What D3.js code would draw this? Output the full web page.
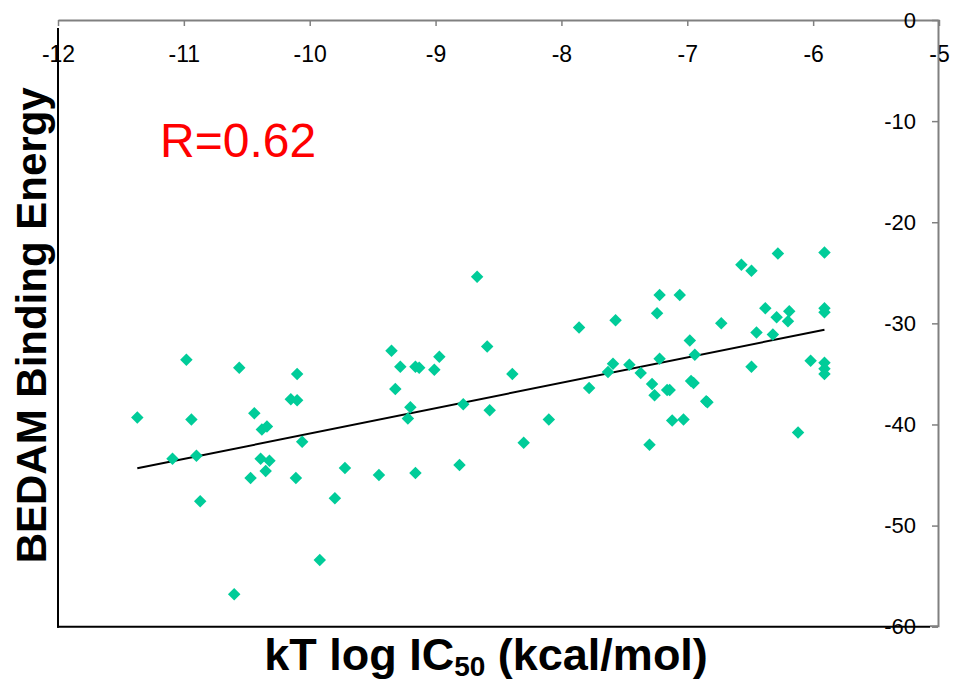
<!DOCTYPE html>
<html>
<head>
<meta charset="utf-8">
<script src="https://cdn.jsdelivr.net/npm/d3@7"></script>
<style>
  body { margin: 0; background: #fff; }
  text { font-family: "Liberation Sans", Arial, sans-serif; }
</style>
</head>
<body>
<div id="chart"></div>
<script>
// kT log IC50 (kcal/mol) vs BEDAM binding energy
const logIC50 = [
  -11.37, -11.09, -10.98, -10.94, -10.90, -10.87, -10.60, -10.56, -10.47, -10.44,
  -10.39, -10.38, -10.35, -10.34, -10.32, -10.15, -10.11, -10.10, -10.10, -10.06,
  -9.92, -9.80, -9.72, -9.45, -9.35, -9.32, -9.28, -9.22, -9.20, -9.16,
  -9.16, -9.13, -9.01, -8.97, -8.81, -8.78, -8.67, -8.59, -8.57, -8.39,
  -8.30, -8.10, -7.86, -7.78, -7.63, -7.59, -7.57, -7.46, -7.37, -7.30,
  -7.28, -7.26, -7.24, -7.22, -7.22, -7.16, -7.14, -7.12, -7.03, -7.06,
  -6.98, -6.97, -6.95, -6.94, -6.85, -6.84, -6.73, -6.57, -6.49, -6.49,
  -6.45, -6.38, -6.32, -6.29, -6.28, -6.19, -6.20, -6.12, -6.02, -5.91,
  -5.91, -5.91, -5.91, -5.91, -5.91
];
const bindingEnergy = [
  -39.3, -43.4, -33.6, -39.5, -43.1, -47.6, -56.8, -34.4, -45.3, -38.9,
  -43.4, -40.5, -44.6, -40.2, -43.6, -37.5, -45.3, -37.6, -35.0, -41.7,
  -53.4, -47.3, -44.3, -45.0, -32.7, -36.5, -34.3, -39.4, -38.3, -44.8,
  -34.3, -34.4, -34.6, -33.3, -44.0, -38.0, -25.4, -32.3, -38.6, -35.0,
  -41.8, -39.5, -30.4, -36.4, -34.8, -34.0, -29.7, -34.1, -34.9, -42.0,
  -36.0, -37.1, -29.0, -27.2, -33.5, -36.6, -36.6, -39.6, -39.5, -27.2,
  -31.7, -35.7, -35.9, -33.1, -37.7, -37.8, -30.0, -24.2, -24.8, -34.3,
  -30.9, -28.5, -31.1, -29.4, -23.1, -28.8, -29.8, -40.8, -33.7, -23.0,
  -28.5, -28.9, -33.9, -34.5, -35.0
];
// fitted trend line end points
const fitX = [-11.37, -5.91];
const fitY = [-44.34, -30.63];
const xTicks = [-12, -11, -10, -9, -8, -7, -6, -5];
const yTicks = [0, -10, -20, -30, -40, -50, -60];
const rLabel = "R=0.62";

const width = 955, height = 682;
const color = "#00CC99";

const svg = d3.select("#chart").append("svg")
  .attr("width", width)
  .attr("height", height);

const x = d3.scaleLinear().domain([-12, -5]).range([58, 939]);
const y = d3.scaleLinear().domain([-60, 0]).range([626.7, 20]);
const fmt = d => String(d);

// top x axis, gray, ticks pointing into the plot
svg.append("g")
  .attr("transform", `translate(0,${y(0)})`)
  .call(d3.axisBottom(x).tickValues(xTicks).tickFormat(fmt).tickSize(6).tickSizeOuter(0).tickPadding(20))
  .call(g => g.select(".domain").attr("stroke", "#808080").attr("stroke-width", 2))
  .call(g => g.selectAll(".tick line").attr("stroke", "#808080").attr("stroke-width", 1.5))
  .call(g => g.selectAll("text").attr("font-size", 23).attr("fill", "#000")
    .attr("font-family", "Liberation Sans, Arial, sans-serif"));

// right y axis, gray, labels on the inside
svg.append("g")
  .attr("transform", `translate(${x(-5) - 1},0)`)
  .call(d3.axisLeft(y).tickValues(yTicks).tickFormat(fmt).tickSize(6).tickSizeOuter(0).tickPadding(16))
  .call(g => g.select(".domain").attr("stroke", "#808080").attr("stroke-width", 2))
  .call(g => g.selectAll(".tick line").attr("stroke", "#808080").attr("stroke-width", 1.5))
  .call(g => g.selectAll("text").attr("font-size", 22).attr("fill", "#000")
    .attr("font-family", "Liberation Sans, Arial, sans-serif"));

// black left and bottom frame lines
svg.append("line")
  .attr("x1", x(-12)).attr("x2", x(-12))
  .attr("y1", 28).attr("y2", y(-60) + 1)
  .attr("stroke", "#000").attr("stroke-width", 2);
svg.append("line")
  .attr("x1", x(-12) - 1).attr("x2", 930)
  .attr("y1", y(-60)).attr("y2", y(-60))
  .attr("stroke", "#000").attr("stroke-width", 2);
svg.append("line")
  .attr("x1", 930).attr("x2", x(-5) - 1)
  .attr("y1", y(-60) - 0.5).attr("y2", y(-60) - 0.5)
  .attr("stroke", "#808080").attr("stroke-width", 2);

// trend line
svg.append("line")
  .attr("x1", x(fitX[0])).attr("y1", y(fitY[0]))
  .attr("x2", x(fitX[1])).attr("y2", y(fitY[1]))
  .attr("stroke", "#000").attr("stroke-width", 2);

// diamonds
const points = logIC50.map((v, i) => ({x: v, y: bindingEnergy[i]}));
const diamond = d3.symbol().type(d3.symbolSquare).size(78);
svg.append("g")
  .selectAll("path")
  .data(points)
  .join("path")
  .attr("d", diamond)
  .attr("transform", d => `translate(${x(d.x)},${y(d.y)}) rotate(45)`)
  .attr("fill", color);

// R label
svg.append("text")
  .attr("x", 160).attr("y", 157)
  .attr("font-size", 48)
  .attr("fill", "#FF0000")
  .text(rLabel);

// axis titles
svg.append("text")
  .attr("transform", `translate(46,${(y(0) + y(-60)) / 2 + 2}) rotate(-90)`)
  .attr("text-anchor", "middle")
  .attr("font-size", 42)
  .attr("font-weight", "bold")
  .text("BEDAM Binding Energy");

const xt = svg.append("text")
  .attr("x", 486).attr("y", 670)
  .attr("text-anchor", "middle")
  .attr("font-size", 45)
  .attr("font-weight", "bold");
xt.append("tspan").text("kT log IC");
xt.append("tspan").attr("font-size", 28).attr("dy", 6).text("50");
xt.append("tspan").attr("dy", -6).text(" (kcal/mol)");
</script>
</body>
</html>
